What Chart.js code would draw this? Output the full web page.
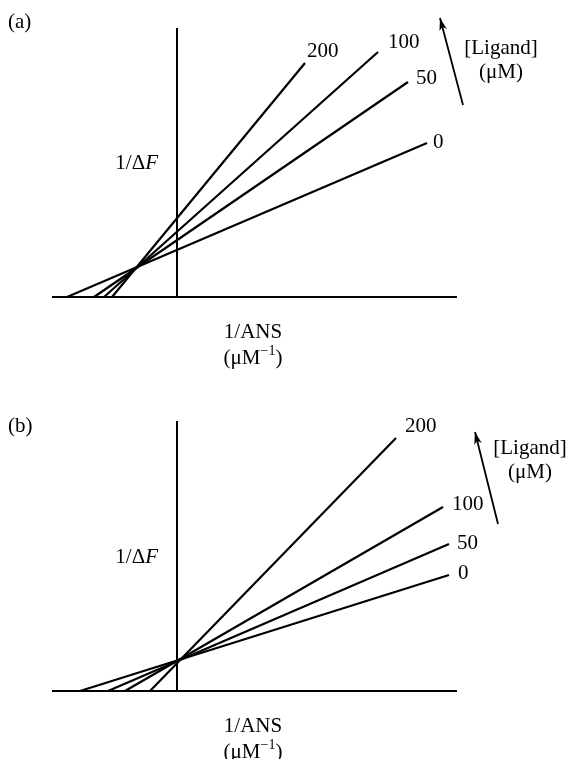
<!DOCTYPE html>
<html>
<head>
<meta charset="utf-8">
<script src="https://cdn.jsdelivr.net/npm/chart.js@4/dist/chart.umd.min.js"></script>
<style>
  html, body { margin: 0; padding: 0; background: #fff; }
  #wrap { position: relative; width: 572px; height: 759px; }
  .pane { position: absolute; left: 0; width: 572px; }
</style>
</head>
<body>
<div id="wrap">
  <div class="pane" style="top:0;height:380px"><canvas id="ca"></canvas></div>
  <div class="pane" style="top:380px;height:379px"><canvas id="cb"></canvas></div>
</div>
<script>
// ---- data (arbitrary units, 1/ANS vs 1/ΔF) ----
const ligandLabels = ['0', '50', '100', '200'];

// panel (a): lines start on the x axis (x-intercept) and end at (endX, endY)
const aStartX = [-2.20, -1.66, -1.46, -1.30];
const aEndX   = [5.00, 4.62, 4.02, 2.56];
const aEndY   = [3.08, 4.30, 4.90, 4.68];

// panel (b)
const bStartX = [-1.94, -1.38, -1.04, -0.54];
const bEndX   = [5.44, 5.44, 5.32, 4.38];
const bEndY   = [2.32, 2.94, 3.68, 5.06];

const FONT = '"Liberation Serif", "Times New Roman", serif';
const FS = 21;

function makeDatasets(startX, endX, endY) {
  return ligandLabels.map((lab, i) => ({
    label: lab,
    data: [{x: startX[i], y: 0}, {x: endX[i], y: endY[i]}],
    borderColor: '#000',
    borderWidth: 2.2,
    pointRadius: 0,
    fill: false,
    clip: false,
    tension: 0
  }));
}

function drawUnit(ctx, cx, y) {
  // "(μM⁻¹)" centred at cx
  ctx.save();
  ctx.textBaseline = 'middle';
  ctx.textAlign = 'left';
  ctx.font = FS + 'px ' + FONT;
  const a = '(μM', b = ')';
  ctx.font = '14px ' + FONT;
  const sup = '\u22121';
  const ws = ctx.measureText(sup).width;
  ctx.font = FS + 'px ' + FONT;
  const wa = ctx.measureText(a).width, wb = ctx.measureText(b).width;
  let x = cx - (wa + ws + wb) / 2;
  ctx.fillText(a, x, y); x += wa;
  ctx.font = '14px ' + FONT;
  ctx.fillText(sup, x, y - 7); x += ws;
  ctx.font = FS + 'px ' + FONT;
  ctx.fillText(b, x, y);
  ctx.restore();
}

function drawDF(ctx, rightX, y) {
  ctx.save();
  ctx.textBaseline = 'middle';
  ctx.textAlign = 'left';
  ctx.font = FS + 'px ' + FONT;
  const a = '1/Δ';
  const wa = ctx.measureText(a).width;
  ctx.font = 'italic ' + FS + 'px ' + FONT;
  const wf = ctx.measureText('F').width;
  let x = rightX - wa - wf;
  ctx.font = FS + 'px ' + FONT;
  ctx.fillText(a, x, y);
  ctx.font = 'italic ' + FS + 'px ' + FONT;
  ctx.fillText('F', x + wa, y);
  ctx.restore();
}

function decorPlugin(cfg) {
  return {
    id: 'decor' + cfg.tag,
    beforeDatasetsDraw(chart) {
      const {ctx, scales: {x, y}} = chart;
      ctx.save();
      ctx.strokeStyle = '#000';
      ctx.lineWidth = 2;
      ctx.beginPath();
      ctx.moveTo(x.getPixelForValue(x.min), y.getPixelForValue(0));
      ctx.lineTo(x.getPixelForValue(x.max), y.getPixelForValue(0));
      ctx.moveTo(x.getPixelForValue(0), y.getPixelForValue(0));
      ctx.lineTo(x.getPixelForValue(0), y.getPixelForValue(y.max));
      ctx.stroke();
      ctx.restore();
    },
    afterDatasetsDraw(chart) {
      const {ctx, scales: {x, y}} = chart;
      const x0 = x.getPixelForValue(0), y0 = y.getPixelForValue(0);
      ctx.save();
      ctx.fillStyle = '#000';
      ctx.font = FS + 'px ' + FONT;
      ctx.textBaseline = 'middle';
      // panel tag
      ctx.textAlign = 'left';
      ctx.fillText('(' + cfg.tag + ')', 8, cfg.tagY);
      // line labels
      chart.data.datasets.forEach((ds, i) => {
        const p = ds.data[1];
        const px = x.getPixelForValue(p.x), py = y.getPixelForValue(p.y);
        ctx.textAlign = 'left';
        ctx.fillText(ds.label, px + cfg.labDx[i], py + cfg.labDy[i]);
      });
      // axis titles
      drawDF(ctx, x0 - 19, y.getPixelForValue(2.67));
      ctx.textAlign = 'center';
      ctx.fillText('1/ANS', x0 + 76, y0 + 35);
      drawUnit(ctx, x0 + 76, y0 + 61);
      // arrow
      const t = cfg.arrowTip, s = cfg.arrowTail;
      const tx = x.getPixelForValue(t[0]), ty = y.getPixelForValue(t[1]);
      const sx = x.getPixelForValue(s[0]), sy = y.getPixelForValue(s[1]);
      ctx.strokeStyle = '#000';
      ctx.lineWidth = 1.8;
      ctx.beginPath();
      ctx.moveTo(sx, sy);
      ctx.lineTo(tx, ty);
      ctx.stroke();
      const ang = Math.atan2(ty - sy, tx - sx);
      const L = 13, W = 0.3;
      ctx.beginPath();
      ctx.moveTo(tx, ty);
      ctx.lineTo(tx - L * Math.cos(ang - W), ty - L * Math.sin(ang - W));
      ctx.lineTo(tx - L * 0.7 * Math.cos(ang), ty - L * 0.7 * Math.sin(ang));
      ctx.lineTo(tx - L * Math.cos(ang + W), ty - L * Math.sin(ang + W));
      ctx.closePath();
      ctx.fill();
      // legend text
      ctx.textAlign = 'center';
      ctx.fillText('[Ligand]', cfg.ligX, cfg.ligY);
      ctx.fillText('(μM)', cfg.ligX, cfg.ligY + 24);
      ctx.restore();
    }
  };
}

function makeChart(id, datasets, yMax, pad, cfg) {
  return new Chart(document.getElementById(id), {
    type: 'line',
    data: { datasets },
    options: {
      responsive: true,
      maintainAspectRatio: false,
      animation: false,
      events: [],
      layout: { padding: pad },
      plugins: { legend: { display: false }, tooltip: { enabled: false }, title: { display: false } },
      scales: {
        x: { type: 'linear', min: -2.5, max: 5.6, display: false },
        y: { type: 'linear', min: 0, max: yMax, display: false }
      }
    },
    plugins: [decorPlugin(cfg)]
  });
}

makeChart('ca', makeDatasets(aStartX, aEndX, aEndY), 5.38,
  {left: 52, right: 115, top: 28, bottom: 83},
  { tag: 'a', tagY: 22,
    labDx: [6, 8, 10, 2], labDy: [-1, -4, -10, -12],
    arrowTip: [5.26, 5.58], arrowTail: [5.72, 3.84],
    ligX: 501, ligY: 48 });

makeChart('cb', makeDatasets(bStartX, bEndX, bEndY), 5.4,
  {left: 52, right: 115, top: 41, bottom: 68},
  { tag: 'b', tagY: 46,
    labDx: [9, 8, 9, 9], labDy: [-2, -1, -3, -12],
    arrowTip: [5.96, 5.18], arrowTail: [6.42, 3.34],
    ligX: 530, ligY: 68 });
</script>
</body>
</html>
